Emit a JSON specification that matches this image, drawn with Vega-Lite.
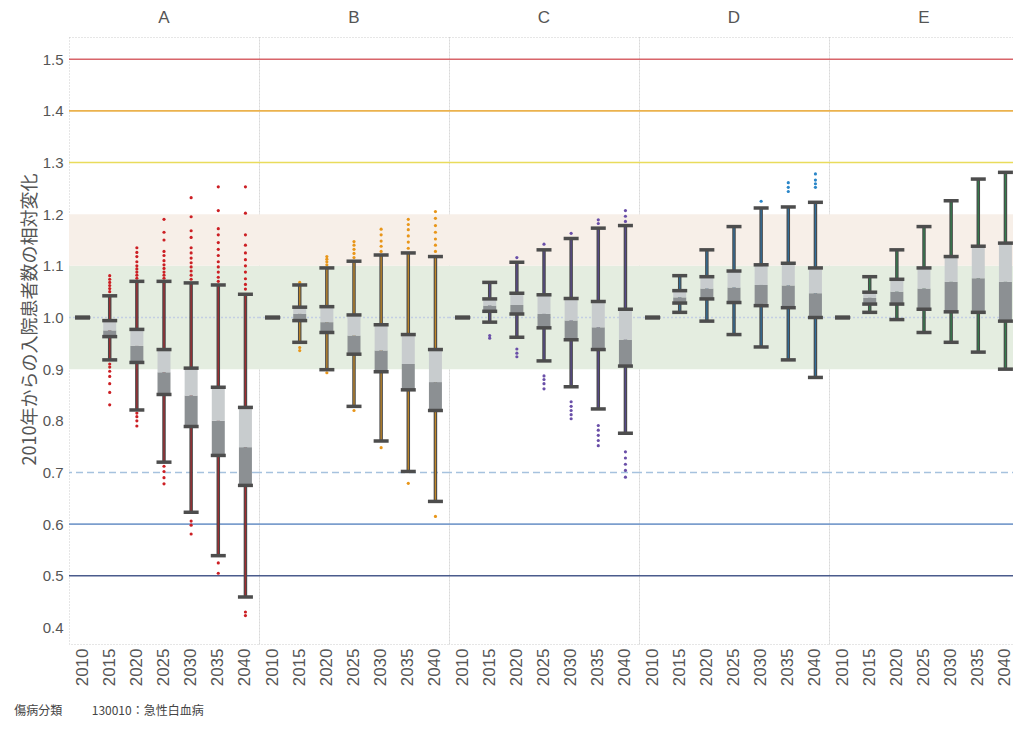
{
  "$schema": "https://vega.github.io/schema/vega-lite/v6.json",
  "background": "white",
  "bounds": "flush",
  "padding": {"left": 14, "top": 9, "right": 0, "bottom": 5},
  "title": {"text": "傷病分類\u00a0\u00a0\u00a0\u00a0\u00a0\u00a0\u00a0\u00a0\u00a0\u00a0\u00a0130010：急性白血病", "orient": "bottom", "anchor": "start", "fontSize": 12, "font": "Noto Sans CJK JP", "fontWeight": "normal", "color": "#444", "offset": 20, "dx": -7},
  "data": {"values": [
    {"f":"A","k":"band","band":"g","lo":0.9,"hi":1.1},{"f":"A","k":"band","band":"p","lo":1.1,"hi":1.2},
    {"f":"B","k":"band","band":"g","lo":0.9,"hi":1.1},{"f":"B","k":"band","band":"p","lo":1.1,"hi":1.2},
    {"f":"C","k":"band","band":"g","lo":0.9,"hi":1.1},{"f":"C","k":"band","band":"p","lo":1.1,"hi":1.2},
    {"f":"D","k":"band","band":"g","lo":0.9,"hi":1.1},{"f":"D","k":"band","band":"p","lo":1.1,"hi":1.2},
    {"f":"E","k":"band","band":"g","lo":0.9,"hi":1.1},{"f":"E","k":"band","band":"p","lo":1.1,"hi":1.2},
    {"f":"A","k":"ref","ref":"r15","v":1.5},{"f":"A","k":"ref","ref":"r14","v":1.4},{"f":"A","k":"ref","ref":"r13","v":1.3},{"f":"A","k":"ref","ref":"r10","v":1.0},{"f":"A","k":"ref","ref":"r07","v":0.7},{"f":"A","k":"ref","ref":"r06","v":0.6},{"f":"A","k":"ref","ref":"r05","v":0.5},
    {"f":"B","k":"ref","ref":"r15","v":1.5},{"f":"B","k":"ref","ref":"r14","v":1.4},{"f":"B","k":"ref","ref":"r13","v":1.3},{"f":"B","k":"ref","ref":"r10","v":1.0},{"f":"B","k":"ref","ref":"r07","v":0.7},{"f":"B","k":"ref","ref":"r06","v":0.6},{"f":"B","k":"ref","ref":"r05","v":0.5},
    {"f":"C","k":"ref","ref":"r15","v":1.5},{"f":"C","k":"ref","ref":"r14","v":1.4},{"f":"C","k":"ref","ref":"r13","v":1.3},{"f":"C","k":"ref","ref":"r10","v":1.0},{"f":"C","k":"ref","ref":"r07","v":0.7},{"f":"C","k":"ref","ref":"r06","v":0.6},{"f":"C","k":"ref","ref":"r05","v":0.5},
    {"f":"D","k":"ref","ref":"r15","v":1.5},{"f":"D","k":"ref","ref":"r14","v":1.4},{"f":"D","k":"ref","ref":"r13","v":1.3},{"f":"D","k":"ref","ref":"r10","v":1.0},{"f":"D","k":"ref","ref":"r07","v":0.7},{"f":"D","k":"ref","ref":"r06","v":0.6},{"f":"D","k":"ref","ref":"r05","v":0.5},
    {"f":"E","k":"ref","ref":"r15","v":1.5},{"f":"E","k":"ref","ref":"r14","v":1.4},{"f":"E","k":"ref","ref":"r13","v":1.3},{"f":"E","k":"ref","ref":"r10","v":1.0},{"f":"E","k":"ref","ref":"r07","v":0.7},{"f":"E","k":"ref","ref":"r06","v":0.6},{"f":"E","k":"ref","ref":"r05","v":0.5},

    {"f":"A","k":"box","yr":2010,"lo":1.0,"q1":1.0,"md":1.0,"q3":1.0,"hi":1.0},
    {"f":"A","k":"box","yr":2015,"lo":0.918,"q1":0.963,"md":0.975,"q3":0.994,"hi":1.042},
    {"f":"A","k":"box","yr":2020,"lo":0.821,"q1":0.913,"md":0.945,"q3":0.977,"hi":1.070},
    {"f":"A","k":"box","yr":2025,"lo":0.720,"q1":0.851,"md":0.894,"q3":0.938,"hi":1.070},
    {"f":"A","k":"box","yr":2030,"lo":0.623,"q1":0.789,"md":0.849,"q3":0.902,"hi":1.067},
    {"f":"A","k":"box","yr":2035,"lo":0.539,"q1":0.733,"md":0.800,"q3":0.865,"hi":1.063},
    {"f":"A","k":"box","yr":2040,"lo":0.459,"q1":0.675,"md":0.749,"q3":0.826,"hi":1.045},
    {"f":"B","k":"box","yr":2010,"lo":1.0,"q1":1.0,"md":1.0,"q3":1.0,"hi":1.0},
    {"f":"B","k":"box","yr":2015,"lo":0.952,"q1":0.994,"md":1.007,"q3":1.020,"hi":1.063},
    {"f":"B","k":"box","yr":2020,"lo":0.899,"q1":0.971,"md":0.991,"q3":1.021,"hi":1.096},
    {"f":"B","k":"box","yr":2025,"lo":0.828,"q1":0.929,"md":0.965,"q3":1.005,"hi":1.109},
    {"f":"B","k":"box","yr":2030,"lo":0.761,"q1":0.895,"md":0.936,"q3":0.986,"hi":1.121},
    {"f":"B","k":"box","yr":2035,"lo":0.702,"q1":0.860,"md":0.910,"q3":0.967,"hi":1.125},
    {"f":"B","k":"box","yr":2040,"lo":0.644,"q1":0.820,"md":0.875,"q3":0.938,"hi":1.118},
    {"f":"C","k":"box","yr":2010,"lo":1.0,"q1":1.0,"md":1.0,"q3":1.0,"hi":1.0},
    {"f":"C","k":"box","yr":2015,"lo":0.991,"q1":1.012,"md":1.023,"q3":1.036,"hi":1.068},
    {"f":"C","k":"box","yr":2020,"lo":0.962,"q1":1.007,"md":1.024,"q3":1.047,"hi":1.107},
    {"f":"C","k":"box","yr":2025,"lo":0.916,"q1":0.980,"md":1.007,"q3":1.044,"hi":1.131},
    {"f":"C","k":"box","yr":2030,"lo":0.866,"q1":0.957,"md":0.994,"q3":1.037,"hi":1.153},
    {"f":"C","k":"box","yr":2035,"lo":0.823,"q1":0.938,"md":0.981,"q3":1.031,"hi":1.173},
    {"f":"C","k":"box","yr":2040,"lo":0.776,"q1":0.906,"md":0.957,"q3":1.016,"hi":1.178},
    {"f":"D","k":"box","yr":2010,"lo":1.0,"q1":1.0,"md":1.0,"q3":1.0,"hi":1.0},
    {"f":"D","k":"box","yr":2015,"lo":1.010,"q1":1.028,"md":1.039,"q3":1.052,"hi":1.081},
    {"f":"D","k":"box","yr":2020,"lo":0.993,"q1":1.036,"md":1.056,"q3":1.079,"hi":1.131},
    {"f":"D","k":"box","yr":2025,"lo":0.967,"q1":1.029,"md":1.058,"q3":1.090,"hi":1.176},
    {"f":"D","k":"box","yr":2030,"lo":0.943,"q1":1.023,"md":1.063,"q3":1.102,"hi":1.212},
    {"f":"D","k":"box","yr":2035,"lo":0.918,"q1":1.019,"md":1.062,"q3":1.105,"hi":1.214},
    {"f":"D","k":"box","yr":2040,"lo":0.884,"q1":1.000,"md":1.047,"q3":1.096,"hi":1.223},
    {"f":"E","k":"box","yr":2010,"lo":1.0,"q1":1.0,"md":1.0,"q3":1.0,"hi":1.0},
    {"f":"E","k":"box","yr":2015,"lo":1.010,"q1":1.026,"md":1.038,"q3":1.049,"hi":1.079},
    {"f":"E","k":"box","yr":2020,"lo":0.996,"q1":1.026,"md":1.050,"q3":1.074,"hi":1.131},
    {"f":"E","k":"box","yr":2025,"lo":0.971,"q1":1.016,"md":1.056,"q3":1.096,"hi":1.176},
    {"f":"E","k":"box","yr":2030,"lo":0.952,"q1":1.011,"md":1.069,"q3":1.118,"hi":1.226},
    {"f":"E","k":"box","yr":2035,"lo":0.933,"q1":1.010,"md":1.076,"q3":1.138,"hi":1.268},
    {"f":"E","k":"box","yr":2040,"lo":0.900,"q1":0.993,"md":1.069,"q3":1.144,"hi":1.281},

    {"f":"A","k":"pt","yr":2015,"v":1.050},{"f":"A","k":"pt","yr":2015,"v":1.056},{"f":"A","k":"pt","yr":2015,"v":1.062},{"f":"A","k":"pt","yr":2015,"v":1.068},{"f":"A","k":"pt","yr":2015,"v":1.074},{"f":"A","k":"pt","yr":2015,"v":1.081},
    {"f":"A","k":"pt","yr":2015,"v":0.910},{"f":"A","k":"pt","yr":2015,"v":0.904},{"f":"A","k":"pt","yr":2015,"v":0.896},{"f":"A","k":"pt","yr":2015,"v":0.886},{"f":"A","k":"pt","yr":2015,"v":0.872},{"f":"A","k":"pt","yr":2015,"v":0.855},{"f":"A","k":"pt","yr":2015,"v":0.831},
    {"f":"A","k":"pt","yr":2020,"v":1.076},{"f":"A","k":"pt","yr":2020,"v":1.082},{"f":"A","k":"pt","yr":2020,"v":1.088},{"f":"A","k":"pt","yr":2020,"v":1.094},{"f":"A","k":"pt","yr":2020,"v":1.100},{"f":"A","k":"pt","yr":2020,"v":1.108},{"f":"A","k":"pt","yr":2020,"v":1.118},{"f":"A","k":"pt","yr":2020,"v":1.126},{"f":"A","k":"pt","yr":2020,"v":1.135},
    {"f":"A","k":"pt","yr":2020,"v":0.815},{"f":"A","k":"pt","yr":2020,"v":0.808},{"f":"A","k":"pt","yr":2020,"v":0.800},{"f":"A","k":"pt","yr":2020,"v":0.790},
    {"f":"A","k":"pt","yr":2025,"v":1.076},{"f":"A","k":"pt","yr":2025,"v":1.082},{"f":"A","k":"pt","yr":2025,"v":1.088},{"f":"A","k":"pt","yr":2025,"v":1.095},{"f":"A","k":"pt","yr":2025,"v":1.102},{"f":"A","k":"pt","yr":2025,"v":1.110},{"f":"A","k":"pt","yr":2025,"v":1.120},{"f":"A","k":"pt","yr":2025,"v":1.128},{"f":"A","k":"pt","yr":2025,"v":1.150},{"f":"A","k":"pt","yr":2025,"v":1.165},{"f":"A","k":"pt","yr":2025,"v":1.190},
    {"f":"A","k":"pt","yr":2025,"v":0.712},{"f":"A","k":"pt","yr":2025,"v":0.702},{"f":"A","k":"pt","yr":2025,"v":0.690},{"f":"A","k":"pt","yr":2025,"v":0.678},
    {"f":"A","k":"pt","yr":2030,"v":1.074},{"f":"A","k":"pt","yr":2030,"v":1.082},{"f":"A","k":"pt","yr":2030,"v":1.090},{"f":"A","k":"pt","yr":2030,"v":1.098},{"f":"A","k":"pt","yr":2030,"v":1.106},{"f":"A","k":"pt","yr":2030,"v":1.115},{"f":"A","k":"pt","yr":2030,"v":1.125},{"f":"A","k":"pt","yr":2030,"v":1.135},{"f":"A","k":"pt","yr":2030,"v":1.155},{"f":"A","k":"pt","yr":2030,"v":1.168},{"f":"A","k":"pt","yr":2030,"v":1.195},{"f":"A","k":"pt","yr":2030,"v":1.232},
    {"f":"A","k":"pt","yr":2030,"v":0.606},{"f":"A","k":"pt","yr":2030,"v":0.598},{"f":"A","k":"pt","yr":2030,"v":0.581},
    {"f":"A","k":"pt","yr":2035,"v":1.070},{"f":"A","k":"pt","yr":2035,"v":1.078},{"f":"A","k":"pt","yr":2035,"v":1.088},{"f":"A","k":"pt","yr":2035,"v":1.098},{"f":"A","k":"pt","yr":2035,"v":1.108},{"f":"A","k":"pt","yr":2035,"v":1.120},{"f":"A","k":"pt","yr":2035,"v":1.132},{"f":"A","k":"pt","yr":2035,"v":1.145},{"f":"A","k":"pt","yr":2035,"v":1.160},{"f":"A","k":"pt","yr":2035,"v":1.172},{"f":"A","k":"pt","yr":2035,"v":1.207},{"f":"A","k":"pt","yr":2035,"v":1.253},
    {"f":"A","k":"pt","yr":2035,"v":0.525},{"f":"A","k":"pt","yr":2035,"v":0.505},
    {"f":"A","k":"pt","yr":2040,"v":1.055},{"f":"A","k":"pt","yr":2040,"v":1.064},{"f":"A","k":"pt","yr":2040,"v":1.075},{"f":"A","k":"pt","yr":2040,"v":1.088},{"f":"A","k":"pt","yr":2040,"v":1.100},{"f":"A","k":"pt","yr":2040,"v":1.112},{"f":"A","k":"pt","yr":2040,"v":1.125},{"f":"A","k":"pt","yr":2040,"v":1.140},{"f":"A","k":"pt","yr":2040,"v":1.160},{"f":"A","k":"pt","yr":2040,"v":1.202},{"f":"A","k":"pt","yr":2040,"v":1.253},
    {"f":"A","k":"pt","yr":2040,"v":0.430},{"f":"A","k":"pt","yr":2040,"v":0.423},

    {"f":"B","k":"pt","yr":2015,"v":1.068},{"f":"B","k":"pt","yr":2015,"v":0.942},{"f":"B","k":"pt","yr":2015,"v":0.936},
    {"f":"B","k":"pt","yr":2020,"v":1.102},{"f":"B","k":"pt","yr":2020,"v":1.108},{"f":"B","k":"pt","yr":2020,"v":1.113},{"f":"B","k":"pt","yr":2020,"v":1.118},{"f":"B","k":"pt","yr":2020,"v":0.893},
    {"f":"B","k":"pt","yr":2025,"v":1.116},{"f":"B","k":"pt","yr":2025,"v":1.124},{"f":"B","k":"pt","yr":2025,"v":1.132},{"f":"B","k":"pt","yr":2025,"v":1.140},{"f":"B","k":"pt","yr":2025,"v":1.147},{"f":"B","k":"pt","yr":2025,"v":0.820},
    {"f":"B","k":"pt","yr":2030,"v":1.128},{"f":"B","k":"pt","yr":2030,"v":1.138},{"f":"B","k":"pt","yr":2030,"v":1.148},{"f":"B","k":"pt","yr":2030,"v":1.160},{"f":"B","k":"pt","yr":2030,"v":1.171},{"f":"B","k":"pt","yr":2030,"v":0.748},
    {"f":"B","k":"pt","yr":2035,"v":1.134},{"f":"B","k":"pt","yr":2035,"v":1.146},{"f":"B","k":"pt","yr":2035,"v":1.158},{"f":"B","k":"pt","yr":2035,"v":1.170},{"f":"B","k":"pt","yr":2035,"v":1.180},{"f":"B","k":"pt","yr":2035,"v":1.190},{"f":"B","k":"pt","yr":2035,"v":0.679},
    {"f":"B","k":"pt","yr":2040,"v":1.128},{"f":"B","k":"pt","yr":2040,"v":1.140},{"f":"B","k":"pt","yr":2040,"v":1.152},{"f":"B","k":"pt","yr":2040,"v":1.165},{"f":"B","k":"pt","yr":2040,"v":1.178},{"f":"B","k":"pt","yr":2040,"v":1.192},{"f":"B","k":"pt","yr":2040,"v":1.205},{"f":"B","k":"pt","yr":2040,"v":0.615},

    {"f":"C","k":"pt","yr":2015,"v":0.965},{"f":"C","k":"pt","yr":2015,"v":0.960},
    {"f":"C","k":"pt","yr":2020,"v":1.116},{"f":"C","k":"pt","yr":2020,"v":0.939},{"f":"C","k":"pt","yr":2020,"v":0.931},{"f":"C","k":"pt","yr":2020,"v":0.924},
    {"f":"C","k":"pt","yr":2025,"v":1.142},{"f":"C","k":"pt","yr":2025,"v":0.887},{"f":"C","k":"pt","yr":2025,"v":0.880},{"f":"C","k":"pt","yr":2025,"v":0.872},{"f":"C","k":"pt","yr":2025,"v":0.862},
    {"f":"C","k":"pt","yr":2030,"v":1.163},{"f":"C","k":"pt","yr":2030,"v":0.837},{"f":"C","k":"pt","yr":2030,"v":0.828},{"f":"C","k":"pt","yr":2030,"v":0.820},{"f":"C","k":"pt","yr":2030,"v":0.812},{"f":"C","k":"pt","yr":2030,"v":0.804},
    {"f":"C","k":"pt","yr":2035,"v":1.189},{"f":"C","k":"pt","yr":2035,"v":1.182},{"f":"C","k":"pt","yr":2035,"v":0.791},{"f":"C","k":"pt","yr":2035,"v":0.782},{"f":"C","k":"pt","yr":2035,"v":0.772},{"f":"C","k":"pt","yr":2035,"v":0.762},{"f":"C","k":"pt","yr":2035,"v":0.752},
    {"f":"C","k":"pt","yr":2040,"v":1.207},{"f":"C","k":"pt","yr":2040,"v":1.196},{"f":"C","k":"pt","yr":2040,"v":1.186},{"f":"C","k":"pt","yr":2040,"v":0.740},{"f":"C","k":"pt","yr":2040,"v":0.728},{"f":"C","k":"pt","yr":2040,"v":0.716},{"f":"C","k":"pt","yr":2040,"v":0.704},{"f":"C","k":"pt","yr":2040,"v":0.691},

    {"f":"D","k":"pt","yr":2030,"v":1.225},
    {"f":"D","k":"pt","yr":2035,"v":1.244},{"f":"D","k":"pt","yr":2035,"v":1.252},{"f":"D","k":"pt","yr":2035,"v":1.261},
    {"f":"D","k":"pt","yr":2040,"v":1.252},{"f":"D","k":"pt","yr":2040,"v":1.259},{"f":"D","k":"pt","yr":2040,"v":1.266},{"f":"D","k":"pt","yr":2040,"v":1.278}
  ]},
  "facet": {"column": {"field": "f", "type": "nominal", "title": null, "header": {"labelFontSize": 17, "labelColor": "#555", "labelFont": "Liberation Sans", "labelPadding": 10}}},
  "spacing": 0,
  "spec": {
    "width": 190,
    "height": 607,
    "layer": [
      {
        "transform": [{"filter": "datum.k == 'band'"}],
        "mark": {"type": "rect"},
        "encoding": {
          "y": {"field": "lo", "type": "quantitative", "title": "2010年からの入院患者数の相対変化", "scale": {"domain": [0.368, 1.543], "nice": false, "zero": false}, "axis": {"values": [0.4,0.5,0.6,0.7,0.8,0.9,1.0,1.1,1.2,1.3,1.4,1.5], "format": ".1f", "titleY": 282}},
          "y2": {"field": "hi"},
          "color": {"field": "band", "type": "nominal", "scale": {"domain": ["g", "p"], "range": ["#e4ede0", "#f7efe8"]}, "legend": null}
        }
      },
      {
        "transform": [{"filter": "datum.k == 'ref'"}],
        "mark": {"type": "rule", "strokeWidth": 1.6},
        "encoding": {
          "y": {"field": "v", "type": "quantitative", "title": "2010年からの入院患者数の相対変化", "scale": {"domain": [0.368, 1.543], "nice": false, "zero": false}},
          "color": {"field": "ref", "type": "nominal", "scale": {"domain": ["r15","r14","r13","r10","r07","r06","r05"], "range": ["#d8656a","#ebb24e","#e9dc5c","#c3cfe3","#a6c2de","#7c9ecd","#4a5b8c"]}, "legend": null},
          "strokeDash": {"field": "ref", "type": "nominal", "scale": {"domain": ["r15","r14","r13","r10","r07","r06","r05"], "range": [[1,0],[1,0],[1,0],[2,2],[7,4],[1,0],[1,0]]}, "legend": null}
        }
      },
      {
        "transform": [{"filter": "datum.k == 'box'"}],
        "mark": {"type": "rule", "strokeWidth": 3.5, "color": "#4a4a4a"},
        "encoding": {
          "x": {"field": "yr", "type": "ordinal", "title": null, "scale": {"paddingInner": 0, "paddingOuter": 0}},
          "y": {"field": "lo", "type": "quantitative", "title": "2010年からの入院患者数の相対変化", "scale": {"domain": [0.368, 1.543], "nice": false, "zero": false}},
          "y2": {"field": "hi"}
        }
      },
      {
        "transform": [{"filter": "datum.k == 'box'"}],
        "mark": {"type": "rule", "strokeWidth": 1.3, "opacity": 0.8},
        "encoding": {
          "x": {"field": "yr", "type": "ordinal", "title": null},
          "y": {"field": "lo", "type": "quantitative", "title": "2010年からの入院患者数の相対変化", "scale": {"domain": [0.368, 1.543], "nice": false, "zero": false}},
          "y2": {"field": "hi"},
          "color": {"field": "f", "type": "nominal", "scale": {"domain": ["A","B","C","D","E"], "range": ["#b8242a","#e0961e","#5a4a9a","#2a78b0","#2e8a4e"]}, "legend": null}
        }
      },
      {
        "transform": [{"filter": "datum.k == 'pt'"}],
        "mark": {"type": "circle", "size": 10, "opacity": 1},
        "encoding": {
          "x": {"field": "yr", "type": "ordinal", "title": null},
          "y": {"field": "v", "type": "quantitative", "title": "2010年からの入院患者数の相対変化", "scale": {"domain": [0.368, 1.543], "nice": false, "zero": false}},
          "color": {"field": "f", "type": "nominal", "scale": {"domain": ["A","B","C","D","E"], "range": ["#cc1f24","#e8961a","#6a4fa8","#2a86c8","#2e8a4e"]}, "legend": null}
        }
      },
      {
        "transform": [{"filter": "datum.k == 'box'"}],
        "mark": {"type": "bar", "size": 13, "color": "#8c9093"},
        "encoding": {
          "x": {"field": "yr", "type": "ordinal", "title": null},
          "y": {"field": "q1", "type": "quantitative", "title": "2010年からの入院患者数の相対変化", "scale": {"domain": [0.368, 1.543], "nice": false, "zero": false}},
          "y2": {"field": "md"}
        }
      },
      {
        "transform": [{"filter": "datum.k == 'box'"}],
        "mark": {"type": "bar", "size": 13, "color": "#c8ccce"},
        "encoding": {
          "x": {"field": "yr", "type": "ordinal", "title": null},
          "y": {"field": "md", "type": "quantitative", "title": "2010年からの入院患者数の相対変化", "scale": {"domain": [0.368, 1.543], "nice": false, "zero": false}},
          "y2": {"field": "q3"}
        }
      },
      {
        "transform": [{"filter": "datum.k == 'box'"}, {"fold": ["lo", "q1", "q3", "hi"], "as": ["key", "val"]}],
        "mark": {"type": "tick", "size": 15, "thickness": 3.5, "color": "#4d4d4d", "opacity": 1},
        "encoding": {
          "x": {"field": "yr", "type": "ordinal", "title": null},
          "y": {"field": "val", "type": "quantitative", "title": "2010年からの入院患者数の相対変化", "scale": {"domain": [0.368, 1.543], "nice": false, "zero": false}}
        }
      }
    ],
    "resolve": {"scale": {"color": "independent"}}
  },
  "config": {
    "font": "Liberation Sans",
    "view": {"stroke": "#cccccc", "strokeDash": [1, 2]},
    "axisY": {"grid": false, "domain": false, "ticks": false, "labelFontSize": 15, "labelColor": "#555", "labelPadding": 6, "titleFontSize": 18, "titleFont": "Noto Sans CJK JP", "titleFontWeight": "normal", "titleColor": "#555", "titlePadding": 3},
    "axisX": {"domain": false, "ticks": false, "grid": false, "labelAngle": -90, "labelFontSize": 17, "labelColor": "#555", "labelPadding": 4}
  }
}
